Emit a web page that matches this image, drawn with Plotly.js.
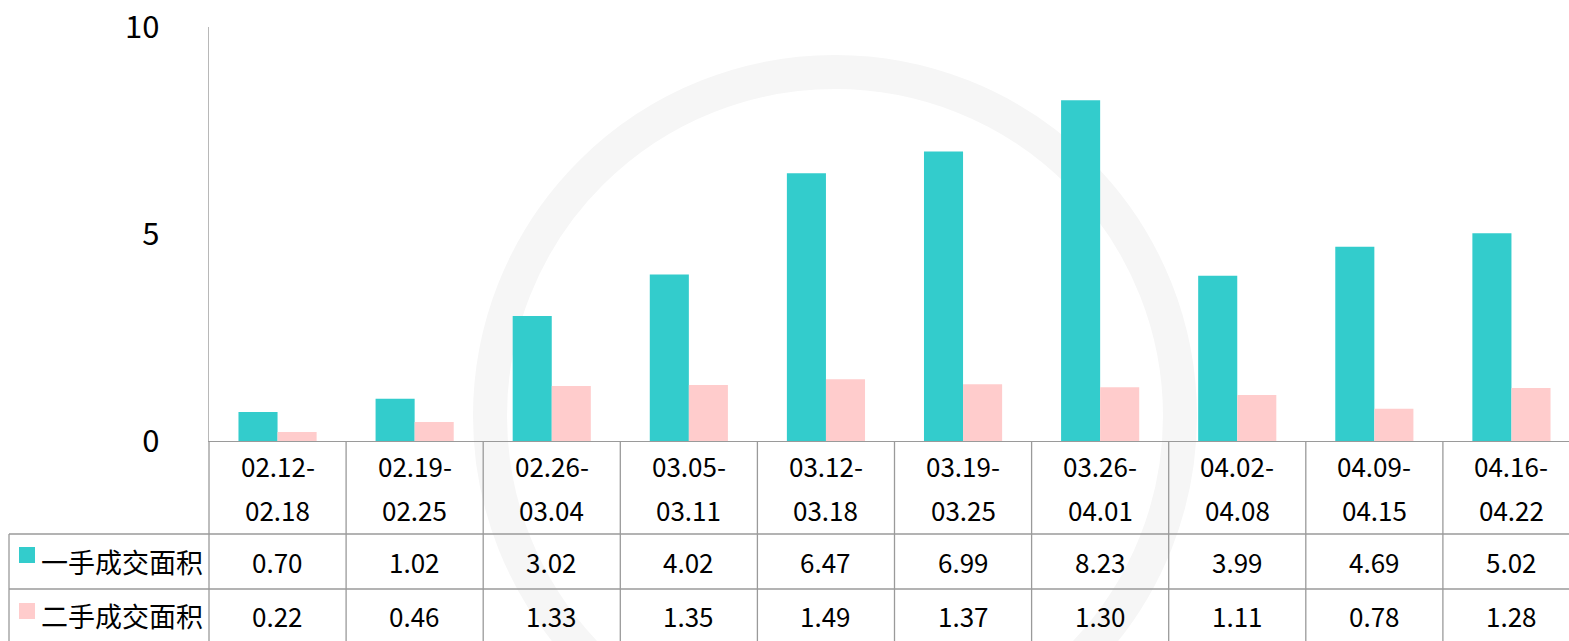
<!DOCTYPE html>
<html>
<head>
<meta charset="utf-8">
<script src="https://cdn.plot.ly/plotly-3.0.1.min.js"></script>
<style>
html,body{margin:0;padding:0;overflow:hidden;background:#fff;width:1569px;height:641px;}
#chart{width:1580px;height:641px;}
</style>
</head>
<body>
<div id="chart"></div>
<script>
var categories = ["02.12-02.18","02.19-02.25","02.26-03.04","03.05-03.11","03.12-03.18","03.19-03.25","03.26-04.01","04.02-04.08","04.09-04.15","04.16-04.22"];
var seriesNames = ["一手成交面积","二手成交面积"];
var newHomeArea = [0.70,1.02,3.02,4.02,6.47,6.99,8.23,3.99,4.69,5.02];
var resaleArea = [0.22,0.46,1.33,1.35,1.49,1.37,1.30,1.11,0.78,1.28];
var yTicks = [0,5,10];

var colors = ["#33CCCC","#FFCCCC"];
var FONT = '"Noto Sans CJK SC", "Noto Sans", sans-serif';
var W = 1580, H = 641;
var L = 209, T = 27, B = 441;
var plotW = W - L, plotH = B - T;
function px2x(px){ return (px - L) / plotW; }
function py2y(py){ return (B - py) / plotH; }

var idx = categories.map(function(_, i){ return i; });
var traces = [
  {type:'bar', x: idx, y: newHomeArea, name: seriesNames[0], marker:{color:colors[0]}, hoverinfo:'none'},
  {type:'bar', x: idx, y: resaleArea, name: seriesNames[1], marker:{color:colors[1]}, hoverinfo:'none'}
];

var lineColor = "#9a9a9a";
var shapes = [];
// watermark ring
shapes.push({type:'circle', xref:'paper', yref:'paper', layer:'below',
  x0: px2x(490), x1: px2x(1180), y0: py2y(760), y1: py2y(72),
  line:{color:'#f6f6f6', width:34}, fillcolor:'rgba(0,0,0,0)'});
// table horizontal lines
[534, 589].forEach(function(py){
  shapes.push({type:'line', xref:'paper', yref:'paper', x0: px2x(9), x1: 1.01, y0: py2y(py), y1: py2y(py), line:{color:lineColor, width:1.3}});
});
// left border of legend column
shapes.push({type:'line', xref:'paper', yref:'paper', x0: px2x(9), x1: px2x(9), y0: py2y(534), y1: py2y(645), line:{color:lineColor, width:1.3}});
// left axis / column line extends through table
shapes.push({type:'line', xref:'paper', yref:'paper', x0: 0, x1: 0, y0: py2y(441), y1: py2y(645), line:{color:lineColor, width:1.3}});
// vertical category boundaries
for (var i = 0; i < categories.length; i++) {
  shapes.push({type:'line', xref:'x', yref:'paper', x0: i + 0.5, x1: i + 0.5, y0: py2y(441), y1: py2y(645), line:{color:lineColor, width:1.3}});
}
// legend swatches
shapes.push({type:'rect', xref:'paper', yref:'paper', x0: px2x(19), x1: px2x(35), y0: py2y(563), y1: py2y(547), fillcolor: colors[0], line:{width:0}});
shapes.push({type:'rect', xref:'paper', yref:'paper', x0: px2x(19), x1: px2x(35), y0: py2y(619), y1: py2y(603), fillcolor: colors[1], line:{width:0}});

var annotations = [];
var tf = {family: FONT, size: 26, color: '#000'};
var lf = {family: FONT, size: 27, color: '#000'};
categories.forEach(function(c, i){
  var k = c.indexOf('-');
  var l1 = c.slice(0, k + 1), l2 = c.slice(k + 1);
  annotations.push({xref:'x', yref:'paper', x:i, y:py2y(465), text:l1, showarrow:false, font:tf, xanchor:'center', yanchor:'middle'});
  annotations.push({xref:'x', yref:'paper', x:i, y:py2y(509), text:l2, showarrow:false, font:tf, xanchor:'center', yanchor:'middle'});
  annotations.push({xref:'x', yref:'paper', x:i, y:py2y(561), text:newHomeArea[i].toFixed(2), showarrow:false, font:tf, xanchor:'center', yanchor:'middle'});
  annotations.push({xref:'x', yref:'paper', x:i, y:py2y(615), text:resaleArea[i].toFixed(2), showarrow:false, font:tf, xanchor:'center', yanchor:'middle'});
});
annotations.push({xref:'paper', yref:'paper', x:px2x(39), y:py2y(561), text:seriesNames[0], showarrow:false, font:lf, xanchor:'left', yanchor:'middle'});
annotations.push({xref:'paper', yref:'paper', x:px2x(39), y:py2y(615), text:seriesNames[1], showarrow:false, font:lf, xanchor:'left', yanchor:'middle'});

var layout = {
  width: W, height: H,
  margin: {l: L, r: 0, t: T, b: H - B, pad: 0},
  paper_bgcolor: '#fff', plot_bgcolor: 'rgba(0,0,0,0)',
  showlegend: false,
  barmode: 'group', bargap: 0.43, bargroupgap: 0,
  font: {family: FONT, color: '#000'},
  xaxis: {type:'linear', range:[-0.5, categories.length - 0.5], showticklabels:false, ticks:'', showgrid:false, zeroline:false,
          showline:true, linecolor:lineColor, linewidth:1.3, fixedrange:true},
  yaxis: {range:[0,10], tickvals: yTicks, ticktext: yTicks.map(String), showgrid:false, zeroline:false,
          showline:true, linecolor:'#b8b8b8', linewidth:1.3, ticks:'', ticklabelstandoff: 42,
          tickfont:{family: FONT, size: 31, color:'#000'}, fixedrange:true},
  shapes: shapes,
  annotations: annotations
};
Plotly.newPlot('chart', traces, layout, {displayModeBar:false, staticPlot:true});
</script>
</body>
</html>
